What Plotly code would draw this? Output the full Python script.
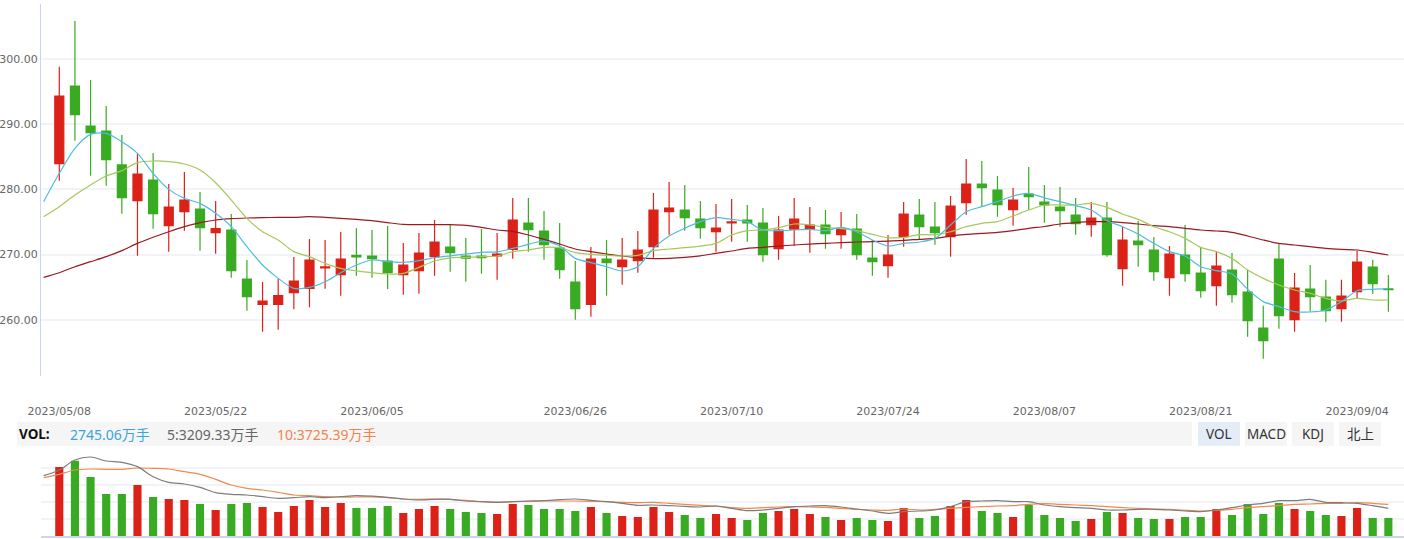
import pandas as pd
import plotly.graph_objects as go

W, H = 1404, 539

# ---------------- data ----------------
# trading days (first entry is the day before the first candle; only MA lines have a value there)
_days = [d for d in pd.bdate_range("2023-05-05", "2023-09-06") if d.strftime("%m-%d") not in ("06-22", "06-23")]
dates = [d.strftime("%Y/%m/%d") for d in _days]
candle_dates = dates[1:]

tick_labels = ["2023/05/08", "2023/05/22", "2023/06/05", "2023/06/26", "2023/07/10",
               "2023/07/24", "2023/08/07", "2023/08/21", "2023/09/04"]

open_ = [283.94, 295.86, 289.72, 288.95, 283.74, 278.26, 281.43, 274.43, 276.57, 276.98,
         273.35, 273.76, 266.24, 262.36, 262.36, 264.15, 264.81, 267.95, 266.91, 269.88,
         269.77, 269.00, 266.91, 267.52, 269.67, 271.15, 269.77, 269.77, 269.77, 270.79,
         274.84, 273.61, 271.00, 265.78, 262.36, 269.31, 268.13, 269.06, 271.20, 276.57,
         276.83, 275.45, 273.50, 274.85, 275.30, 274.84, 270.90, 273.91, 273.91, 274.53,
         273.04, 273.91, 269.46, 268.29, 272.74, 276.06, 274.22, 272.74, 277.95, 280.82,
         279.90, 276.88, 279.28, 278.06, 277.29, 276.06, 274.58, 275.60, 267.83, 272.07,
         270.69, 266.45, 269.93, 267.16, 265.22, 267.62, 264.25, 258.72, 269.31, 260.00,
         264.71, 263.48, 261.69, 264.30, 268.08, 264.72]
close = [294.32, 291.46, 288.70, 284.55, 278.72, 282.35, 276.27, 277.29, 278.36, 274.12,
         273.97, 267.52, 263.53, 262.87, 263.69, 265.94, 269.16, 268.10, 269.31, 269.62,
         269.36, 267.21, 268.39, 270.23, 271.92, 270.28, 269.46, 269.51, 270.08, 275.30,
         273.81, 271.51, 267.67, 261.69, 269.31, 268.75, 269.16, 270.69, 276.83, 277.14,
         275.65, 274.12, 274.07, 275.00, 274.84, 269.98, 273.76, 275.45, 274.53, 273.20,
         273.91, 269.98, 268.90, 269.93, 276.22, 274.27, 273.35, 277.44, 280.82, 280.26,
         277.65, 278.36, 278.88, 277.60, 276.73, 274.73, 275.60, 269.98, 272.23, 271.51,
         267.37, 270.08, 267.06, 264.45, 268.24, 263.84, 259.85, 256.78, 260.62, 264.86,
         263.53, 261.38, 263.63, 268.85, 265.53, 264.60]
high = [298.82, 305.83, 296.78, 292.79, 288.34, 285.42, 285.58, 280.82, 282.66, 279.59,
        278.21, 276.22, 269.16, 265.78, 266.29, 269.62, 272.38, 272.23, 273.45, 274.02,
        273.76, 274.37, 271.77, 273.30, 275.30, 274.53, 272.53, 273.91, 273.30, 278.67,
        278.67, 276.68, 274.84, 269.00, 271.15, 272.23, 272.53, 273.61, 279.44, 281.13,
        280.67, 278.21, 277.75, 278.52, 277.60, 277.14, 275.91, 278.67, 277.29, 276.83,
        276.52, 276.22, 272.23, 272.99, 278.06, 278.52, 278.06, 278.98, 284.66, 284.35,
        282.05, 280.21, 283.43, 280.67, 280.36, 278.67, 278.06, 278.06, 274.22, 275.14,
        272.69, 271.31, 274.53, 271.15, 270.54, 270.23, 267.62, 262.15, 271.61, 267.16,
        268.39, 266.14, 266.14, 270.59, 269.21, 266.86]
low = [281.33, 287.47, 282.10, 280.56, 276.27, 269.82, 273.97, 270.44, 273.66, 270.59,
       270.13, 266.45, 261.38, 258.16, 258.47, 261.59, 261.90, 264.76, 263.69, 266.75,
       266.45, 264.71, 263.84, 263.99, 266.75, 267.37, 265.83, 267.06, 266.14, 269.36,
       270.44, 269.21, 266.29, 260.00, 260.46, 263.68, 265.37, 267.21, 269.51, 273.04,
       273.66, 272.43, 270.44, 271.97, 271.97, 268.90, 269.21, 271.36, 270.28, 270.90,
       270.90, 269.21, 266.75, 266.45, 271.20, 272.28, 271.51, 269.67, 276.11, 277.34,
       275.81, 274.43, 276.83, 274.89, 274.27, 273.04, 272.74, 269.67, 265.22, 268.13,
       265.99, 263.68, 265.83, 263.38, 262.15, 262.61, 257.39, 254.02, 258.62, 258.16,
       261.23, 259.69, 259.69, 263.17, 263.99, 261.23]

# moving averages (first value = day before the first candle)
ma5 = [278.11, 282.46, 286.30, 288.44, 288.60, 287.31, 285.53, 282.46, 280.00, 278.62,
       277.85, 276.32, 274.27, 271.20, 268.39, 266.34, 264.81, 264.96, 265.83, 267.20,
       268.39, 269.16, 268.90, 268.80, 269.06, 269.50, 269.80, 270.08, 270.34, 270.40,
       270.95, 271.56, 272.07, 271.30, 269.41, 268.75, 268.13, 267.47, 268.13, 270.95,
       272.84, 274.02, 275.04, 275.65, 275.40, 275.04, 273.76, 273.66, 273.76, 273.86,
       273.66, 274.17, 273.50, 272.23, 271.30, 271.71, 271.92, 272.48, 274.53, 276.57,
       277.34, 278.11, 278.98, 279.39, 278.70, 278.11, 277.50, 276.83, 275.19, 274.27,
       273.14, 271.71, 270.44, 269.77, 268.13, 267.52, 267.01, 264.66, 262.77, 262.00,
       261.23, 261.18, 261.48, 262.77, 264.45, 264.66, 264.76]
ma10 = [275.81, 277.34, 279.13, 280.67, 282.05, 282.87, 284.09, 284.35, 284.25, 283.89,
        282.97, 281.02, 278.36, 275.55, 273.50, 272.23, 270.44, 269.67, 268.65, 267.88,
        267.50, 267.21, 267.01, 267.11, 268.03, 269.00, 269.50, 269.56, 269.67, 269.77,
        270.44, 270.69, 271.10, 271.05, 270.28, 270.03, 269.87, 269.77, 269.87, 270.59,
        270.85, 271.05, 271.30, 271.71, 272.99, 273.66, 273.76, 274.12, 274.68, 274.53,
        274.17, 273.96, 273.66, 273.09, 272.58, 272.63, 273.04, 273.04, 273.50, 274.27,
        274.79, 275.04, 275.91, 276.83, 277.60, 277.60, 277.60, 277.85, 277.24, 276.22,
        275.40, 274.27, 273.50, 272.48, 271.10, 270.44, 269.41, 267.62, 266.34, 265.32,
        264.55, 264.04, 263.27, 262.87, 263.27, 263.02, 263.02]
ma30 = [266.50, 267.21, 268.13, 268.90, 269.67, 270.59, 271.71, 272.64, 273.50, 274.27,
        274.89, 275.30, 275.50, 275.60, 275.65, 275.70, 275.70, 275.81, 275.70, 275.55,
        275.40, 275.19, 274.89, 274.63, 274.58, 274.58, 274.58, 274.48, 274.17, 273.76,
        273.56, 272.99, 272.33, 271.61, 270.85, 270.44, 270.08, 269.77, 269.50, 269.36,
        269.41, 269.56, 269.80, 270.18, 270.54, 270.95, 271.10, 271.30, 271.46, 271.61,
        271.71, 271.82, 271.92, 271.97, 272.07, 272.17, 272.33, 272.48, 272.84, 273.09,
        273.25, 273.40, 273.66, 274.02, 274.30, 274.68, 274.89, 275.04, 275.04, 274.89,
        274.68, 274.43, 274.27, 274.02, 273.76, 273.61, 273.40, 272.84, 272.23, 271.71,
        271.46, 271.20, 270.95, 270.79, 270.69, 270.34, 269.93]

# volume, 万手
volume = [10492, 11456, 8972, 6387, 6387, 7755, 5930, 5626, 5474, 4866,
          3954, 4866, 5018, 4410, 3649, 4562, 5474, 4410, 5018, 4258,
          4258, 4562, 3497, 4106, 4562, 4106, 3649, 3497, 3345, 4866,
          4714, 4106, 4106, 3801, 4410, 3497, 3041, 2889, 4410, 3649,
          3193, 2737, 3345, 2737, 2433, 3497, 3801, 4106, 3345, 2889,
          2433, 2737, 2433, 2281, 4258, 2737, 3041, 4562, 5474, 3801,
          3497, 2889, 4714, 3193, 2737, 2281, 2585, 3649, 3497, 2737,
          2585, 2585, 2889, 2889, 4106, 3193, 4866, 3345, 5018, 4106,
          3801, 3193, 3041, 4258, 2737, 2745.06]
vol_ma_gray = [9171, 10033, 11553, 12009, 11401, 11198, 10539, 9019, 8158, 7905,
               7398, 6587, 6334, 6232, 5979, 5726, 5827, 5979, 5827, 5979,
               6131, 6050, 5878, 5624, 5472, 5574, 5574, 5320, 5219, 5118,
               5219, 5320, 5371, 5523, 5624, 5422, 5219, 4966, 4662, 4712,
               4611, 4510, 4408, 4560, 4206, 3851, 3952, 4206, 4459, 4560,
               4611, 4408, 4104, 3800, 3446, 3699, 3800, 3952, 4459, 5219,
               5320, 5371, 5219, 5219, 4712, 4459, 4307, 4206, 3952, 3952,
               4054, 4054, 3952, 3800, 3699, 3952, 4307, 4712, 4966, 5371,
               5371, 5574, 5118, 5067, 4966, 4611, 4206]
vol_ma_orange = [8867, 9374, 10033, 10185, 10134, 10134, 10337, 10286, 10185, 9779,
                 9374, 8614, 7752, 7246, 6992, 6638, 6232, 6131, 5979, 5928,
                 5928, 5950, 5827, 5624, 5574, 5624, 5574, 5422, 5219, 5168,
                 5219, 5270, 5320, 5320, 5320, 5270, 5219, 5118, 5067, 5118,
                 4966, 4814, 4662, 4535, 4307, 4206, 4307, 4408, 4459, 4408,
                 4358, 4206, 4054, 3952, 3902, 4104, 3952, 4054, 4206, 4358,
                 4459, 4560, 4611, 4814, 4915, 4814, 4712, 4611, 4459, 4307,
                 4206, 4104, 4054, 3902, 3800, 3902, 4054, 4307, 4459, 4611,
                 4814, 4864, 4966, 4966, 5067, 4966, 4814]

vol_texts = [("VOL:", "#111111", True), ("2745.06万手", "#3ba5d3", False),
             ("5:3209.33万手", "#666666", False), ("10:3725.39万手", "#f0844e", False)]
buttons = ["VOL", "MACD", "KDJ", "北上"]

# ---------------- style ----------------
RED = "#dc2218"
GREEN = "#39ab22"
GRID = "#f2f3f6"
AXIS = "#ccd6eb"
FONT = "Noto Sans, Noto Sans CJK SC, sans-serif"
TICKFONT = "DejaVu Sans, Noto Sans, sans-serif"


def px(x):
    return x / W


def py(y):
    return 1 - y / H


fig = go.Figure()

fig.add_trace(go.Candlestick(
    x=candle_dates, open=open_, high=high, low=low, close=close,
    increasing=dict(line=dict(color=RED, width=1.2), fillcolor=RED),
    decreasing=dict(line=dict(color=GREEN, width=1.2), fillcolor=GREEN),
    whiskerwidth=0, xaxis="x", yaxis="y", showlegend=False, hoverinfo="skip"))

for vals, col in [(ma30, "#9a1a1f"), (ma10, "#a6c85a"), (ma5, "#4dbde0")]:
    fig.add_trace(go.Scatter(x=dates, y=vals, mode="lines",
                             line=dict(color=col, width=1.2, shape="spline", smoothing=0.8),
                             xaxis="x", yaxis="y", showlegend=False, hoverinfo="skip"))

vol_colors = [RED if c >= o else GREEN for o, c in zip(open_, close)]
fig.add_trace(go.Bar(x=candle_dates, y=volume, marker=dict(color=vol_colors, line=dict(width=0)),
                     width=0.52, xaxis="x2", yaxis="y2", showlegend=False, hoverinfo="skip"))
for vals, col in [(vol_ma_orange, "#f0894f"), (vol_ma_gray, "#7d7d7d")]:
    fig.add_trace(go.Scatter(x=dates, y=vals, mode="lines",
                             line=dict(color=col, width=1.2, shape="spline", smoothing=0.8),
                             xaxis="x2", yaxis="y2", showlegend=False, hoverinfo="skip"))

xr = [-0.17, 87.0]
vol_step = 2593.2

shapes = [dict(type="rect", xref="paper", yref="paper", x0=px(17), x1=px(1192),
               y0=py(445.7), y1=py(421.7), fillcolor="#f5f5f5", line=dict(width=0), layer="below")]
btn_x = [(1198, 1240), (1245, 1287), (1292, 1334), (1339, 1381)]
annotations = []
for i, (b, (a0, a1)) in enumerate(zip(buttons, btn_x)):
    shapes.append(dict(type="rect", xref="paper", yref="paper", x0=px(a0), x1=px(a1),
                       y0=py(445.7), y1=py(422), fillcolor="#e3ecf7" if i == 0 else "#f5f5f5",
                       line=dict(width=0), layer="below"))
    annotations.append(dict(xref="paper", yref="paper", x=px((a0 + a1) / 2), y=py(434),
                            text=b, showarrow=False, xanchor="center", yanchor="middle",
                            font=dict(family=FONT, size=13.5, color="#333333")))
for (t, c, bold), x0 in zip(vol_texts, [17, 68, 165, 275]):
    annotations.append(dict(xref="paper", yref="paper", x=px(x0), y=py(434),
                            text=f"<b>{t}</b>" if bold else t, showarrow=False,
                            xanchor="left", yanchor="middle",
                            font=dict(family=FONT, size=14 if not bold else 13.5, color=c)))

fig.update_layout(
    width=W, height=H, margin=dict(l=0, r=0, t=0, b=0, autoexpand=False),
    paper_bgcolor="white", plot_bgcolor="white",
    boxgap=0.424, boxgroupgap=0, bargap=0.48,
    font=dict(family=FONT, size=11, color="#666666"),
    xaxis=dict(domain=[px(41), 1], type="category", categoryorder="array", categoryarray=dates,
               range=xr, tickmode="array", tickvals=tick_labels, ticktext=tick_labels,
               showgrid=False, showline=False, zeroline=False, ticks="", automargin=False,
               ticklabelstandoff=27, tickfont=dict(family=TICKFONT, size=11, color="#666666"),
               rangeslider=dict(visible=False), anchor="y"),
    yaxis=dict(domain=[py(376), py(4)], range=[251.36, 308.44], dtick=10, tick0=0,
               tickformat=".2f", showgrid=True, gridcolor=GRID, gridwidth=2, automargin=False,
               showline=True, linecolor=AXIS, linewidth=1.2, zeroline=False, ticks="",
               tickfont=dict(family=TICKFONT, size=11, color="#666666"), anchor="x"),
    xaxis2=dict(domain=[px(41), 1], type="category", categoryorder="array", categoryarray=dates,
                range=xr, matches="x", showticklabels=False, showgrid=False, automargin=False,
                showline=True, linecolor=AXIS, linewidth=1.5, zeroline=False, ticks="", anchor="y2"),
    yaxis2=dict(domain=[py(536), py(450.7)], range=[0, vol_step * 5.0005],
                tickmode="array", tickvals=[vol_step * k for k in range(1, 6)], automargin=False,
                showticklabels=False, showgrid=True, gridcolor=GRID, gridwidth=2,
                showline=False, zeroline=False, ticks="", anchor="x2"),
    shapes=shapes, annotations=annotations,
)

fig.write_html("out.html")
